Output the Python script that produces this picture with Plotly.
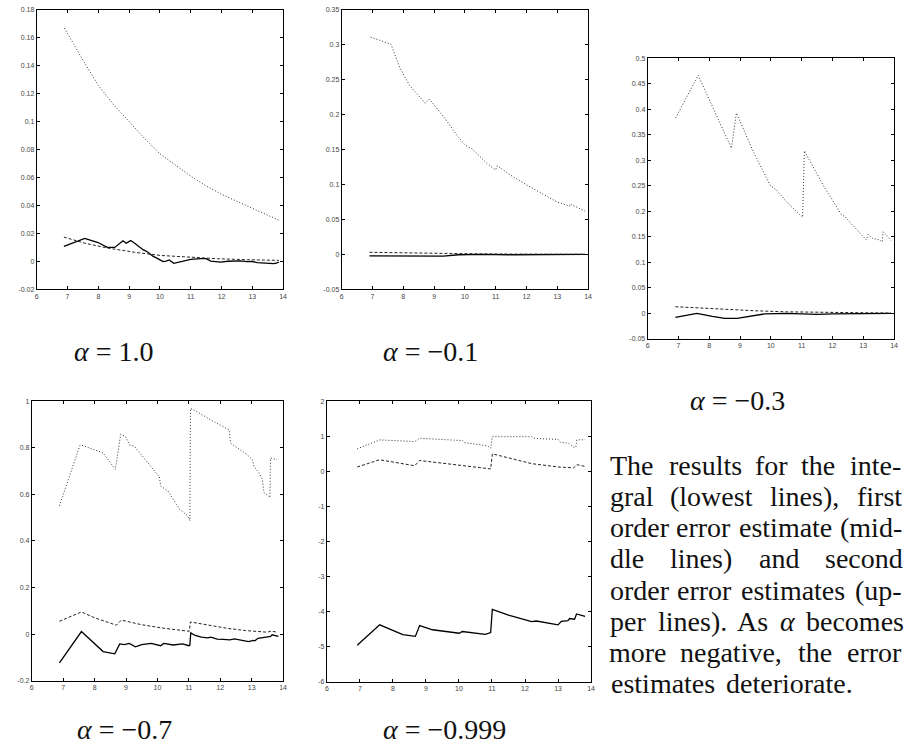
import plotly.graph_objects as go

W, H = 904, 750

# ---------------- data ----------------
# alpha = 1.0
a1_x_int = [6.88, 7.56, 7.99, 8.29, 8.53, 8.8, 8.9, 9.05, 9.18, 9.45, 9.6, 9.77, 9.93, 10.1, 10.2, 10.3,
            10.45, 10.68, 11.0, 11.33, 11.5, 11.65, 11.97, 12.2, 12.4, 12.6, 12.84, 13.0, 13.16, 13.3,
            13.48, 13.6, 13.7, 13.8, 13.86]
a1_int = [0.0107, 0.0165, 0.0135, 0.0100, 0.0100, 0.0147, 0.0130, 0.0149, 0.0130, 0.0084, 0.0067, 0.0037,
          0.0020, -0.0002, 0.0002, 0.0010, -0.0014, -0.0002, 0.0014, 0.0020, 0.0019, 0.0002, -0.0005,
          0.0001, 0.0002, 0.0004, -0.0002, -0.0001, -0.0009, -0.0011, -0.0016, -0.0013, -0.0016, -0.0010,
          -0.0005]
a1_x_e1 = [6.88, 7.56, 8.31, 9.18, 10.04, 10.9, 11.87, 12.84, 13.86]
a1_e1 = [0.0174, 0.0130, 0.0095, 0.0065, 0.0042, 0.0030, 0.0019, 0.0012, 0.0007]
a1_x_e2 = [6.9, 7.2, 7.5, 8.0, 8.5, 9.0, 9.5, 10.0, 10.5, 11.0, 11.5, 12.0, 12.5, 13.0, 13.5, 13.86]
a1_e2 = [0.167, 0.155, 0.144, 0.126, 0.112, 0.100, 0.088, 0.077, 0.069, 0.061, 0.054, 0.048, 0.043,
         0.038, 0.033, 0.0295]

# alpha = -0.1
a2_x_int = [6.9, 7.6, 8.0, 8.8, 9.3, 9.8, 10.5, 11.5, 12.5, 13.9]
a2_int = [-0.002, -0.002, -0.0022, -0.003, -0.0025, -0.0005, 0.0, -0.0005, -0.0005, 0.0]
a2_x_e1 = [6.9, 8.0, 9.0, 10.0, 11.0, 12.0, 13.9]
a2_e1 = [0.003, 0.002, 0.0015, 0.001, 0.0005, 0.0003, 0.0001]
a2_x_e2 = [6.94, 7.6, 7.88, 8.2, 8.71, 8.84, 9.0, 9.38, 9.75, 10.02, 10.24, 10.3, 10.72, 11.0, 11.05,
           11.5, 12.0, 12.5, 13.0, 13.4, 13.42, 13.9]
a2_e2 = [0.311, 0.301, 0.268, 0.242, 0.2165, 0.2225, 0.214, 0.193, 0.170, 0.156, 0.151, 0.148, 0.130,
         0.121, 0.127, 0.113, 0.0995, 0.087, 0.075, 0.069, 0.072, 0.062]

# alpha = -0.3
a3_x_int = [6.9, 7.6, 8.1, 8.5, 8.9, 9.3, 9.8, 10.5, 11.5, 12.0, 12.8, 13.9]
a3_int = [-0.008, 0.0, -0.006, -0.010, -0.010, -0.006, -0.001, 0.0, -0.002, -0.001, -0.001, 0.0]
a3_x_e1 = [6.9, 7.6, 8.5, 9.5, 10.5, 11.5, 12.5, 13.9]
a3_e1 = [0.013, 0.011, 0.007, 0.005, 0.003, 0.002, 0.001, 0.0005]
a3_x_e2 = [6.91, 7.64, 8.72, 8.88, 9.44, 9.98, 10.2, 10.52, 10.95, 11.03, 11.09, 11.7, 12.3, 12.4, 13.1,
           13.16, 13.3, 13.53, 13.62, 13.64, 13.75, 13.9]
a3_e2 = [0.3835, 0.467, 0.324, 0.393, 0.316, 0.251, 0.241, 0.218, 0.193, 0.188, 0.319, 0.251, 0.193,
         0.190, 0.144, 0.155, 0.147, 0.144, 0.140, 0.160, 0.154, 0.143]

# alpha = -0.7
a4_x_int = [6.88, 7.58, 8.27, 8.64, 8.8, 8.95, 9.1, 9.3, 9.5, 9.8, 10.1, 10.2, 10.5, 10.8, 11.0, 11.03,
            11.06, 11.2, 11.4, 11.6, 11.7, 11.9, 12.1, 12.3, 12.45, 12.6, 12.8, 12.9, 13.05, 13.1, 13.2,
            13.35, 13.5, 13.6, 13.65, 13.75, 13.85]
a4_int = [-0.124, 0.011, -0.075, -0.085, -0.042, -0.045, -0.040, -0.055, -0.045, -0.040, -0.050, -0.040,
          -0.047, -0.042, -0.050, -0.048, 0.005, -0.006, -0.013, -0.016, -0.013, -0.022, -0.023, -0.025,
          -0.021, -0.024, -0.030, -0.032, -0.027, -0.029, -0.018, -0.015, -0.012, -0.010, -0.003, -0.007,
          -0.010]
a4_x_e1 = [6.88, 7.58, 8.0, 8.69, 8.85, 9.5, 10.2, 11.01, 11.05, 11.6, 12.2, 12.8, 13.5, 13.62, 13.81]
a4_e1 = [0.055, 0.095, 0.070, 0.038, 0.060, 0.040, 0.025, 0.012, 0.052, 0.038, 0.025, 0.015, 0.008,
         0.013, 0.008]
a4_x_e2 = [6.88, 7.53, 7.58, 8.27, 8.66, 8.83, 8.98, 9.11, 9.27, 9.48, 10.0, 10.06, 10.1, 10.33, 10.54,
           10.7, 10.96, 11.03, 11.05, 11.17, 11.8, 12.12, 12.28, 12.33, 12.65, 12.86, 13.02, 13.07, 13.23,
           13.34, 13.39, 13.55, 13.58, 13.6, 13.81]
a4_e2 = [0.551, 0.81, 0.812, 0.778, 0.707, 0.858, 0.849, 0.813, 0.806, 0.77, 0.685, 0.678, 0.636, 0.615,
         0.572, 0.537, 0.508, 0.487, 0.969, 0.962, 0.912, 0.89, 0.877, 0.82, 0.79, 0.77, 0.749, 0.72,
         0.693, 0.664, 0.607, 0.593, 0.586, 0.756, 0.749]

# alpha = -0.999
a5_x_int = [6.92, 7.6, 8.3, 8.68, 8.81, 9.0, 9.2, 10.01, 10.1, 10.8, 10.96, 11.01, 11.5, 12.2, 12.35,
            13.0, 13.1, 13.3, 13.35, 13.5, 13.56, 13.82]
a5_int = [-4.965, -4.38, -4.66, -4.71, -4.40, -4.45, -4.52, -4.62, -4.57, -4.65, -4.60, -3.94, -4.10,
          -4.29, -4.27, -4.38, -4.28, -4.26, -4.20, -4.22, -4.07, -4.14]
a5_x_e1 = [6.92, 7.6, 8.66, 8.81, 10.96, 11.01, 12.2, 13.0, 13.47, 13.57, 13.82]
a5_e1 = [0.125, 0.33, 0.16, 0.31, 0.07, 0.50, 0.22, 0.125, 0.10, 0.19, 0.14]
a5_x_e2 = [6.92, 7.6, 8.66, 8.81, 10.11, 10.16, 10.86, 10.96, 11.01, 12.2, 12.3, 13.0, 13.07, 13.32,
           13.47, 13.54, 13.57, 13.82]
a5_e2 = [0.643, 0.897, 0.85, 0.944, 0.878, 0.82, 0.73, 0.66, 0.99, 0.99, 0.94, 0.91, 0.83, 0.80, 0.69,
         0.69, 0.90, 0.90]

x_ticks = [6, 7, 8, 9, 10, 11, 12, 13, 14]
panel_labels = ["<i>α</i> = 1.0", "<i>α</i> = −0.1", "<i>α</i> = −0.3", "<i>α</i> = −0.7", "<i>α</i> = −0.999"]

# caption, one list of words per line (all but the last line are justified)
caption_words = [
    ["The", "results", "for", "the", "inte-"],
    ["gral", "(lowest", "lines),", "first"],
    ["order", "error", "estimate", "(mid-"],
    ["dle", "lines)", "and", "second"],
    ["order", "error", "estimates", "(up-"],
    ["per", "lines).", "As", "α", "becomes"],
    ["more", "negative,", "the", "error"],
    ["estimates", "deteriorate."],
]

# ---------------- layout ----------------
# approximate advance widths (em) of a book serif, used to justify the caption lines
EM_W = {"a": .5, "b": .556, "c": .444, "d": .556, "e": .444, "f": .306, "g": .5, "h": .556, "i": .278,
        "l": .278, "m": .833, "n": .556, "o": .5, "p": .556, "r": .392, "s": .394, "t": .389, "u": .556,
        "v": .528, "w": .722, "T": .722, "A": .75, "(": .389, ")": .389, ",": .278, ".": .278, "-": .333,
        "α": .64}
EM_PX = 26.2
CAP_L, CAP_R = 612, 906
caption_top, caption_step = 466, 31.4


def word_px(w):
    return sum(EM_W.get(c, .5) for c in w) * EM_PX


# panel boxes in pixels: left, right, top, bottom ; y range ; y tick step
panels = [
    dict(box=(35, 283, 6, 288), yr=(-0.02, 0.18), dt=0.02,
         data=[(a1_x_int, a1_int), (a1_x_e1, a1_e1), (a1_x_e2, a1_e2)]),
    dict(box=(342, 590, 6, 288), yr=(-0.05, 0.35), dt=0.05,
         data=[(a2_x_int, a2_int), (a2_x_e1, a2_e1), (a2_x_e2, a2_e2)]),
    dict(box=(650, 898, 55, 338), yr=(-0.05, 0.5), dt=0.05,
         data=[(a3_x_int, a3_int), (a3_x_e1, a3_e1), (a3_x_e2, a3_e2)]),
    dict(box=(30, 283, 401, 683), yr=(-0.2, 1.0), dt=0.2,
         data=[(a4_x_int, a4_int), (a4_x_e1, a4_e1), (a4_x_e2, a4_e2)]),
    dict(box=(327, 593, 401, 684), yr=(-6, 2), dt=1,
         data=[(a5_x_int, a5_int), (a5_x_e1, a5_e1), (a5_x_e2, a5_e2)]),
]
label_pos = [(113, 351), (431, 351), (740, 400), (123, 732), (445, 732)]

styles = [dict(color="black", width=1.3, dash="solid"),
          dict(color="#222", width=1.0, dash="3px,2px"),
          dict(color="#333", width=1.0, dash="1px,2px")]

TEXT_FONT = dict(family="Liberation Serif", size=28, color="#111")

fig = go.Figure()
layout = dict(width=W, height=H, margin=dict(l=0, r=0, t=0, b=0),
              paper_bgcolor="white", plot_bgcolor="white", showlegend=False)


def fmt(v):
    s = f"{v:.2f}".rstrip("0").rstrip(".")
    return "0" if s in ("-0", "0") else s


annotations = []
for i, p in enumerate(panels):
    n = "" if i == 0 else str(i + 1)
    l, r, t, b = p["box"]
    y0, y1 = p["yr"]
    nt = int(round((y1 - y0) / p["dt"]))
    yt = [round(y0 + k * p["dt"], 6) for k in range(nt + 1)]
    axis_common = dict(showline=True, linecolor="black", linewidth=1, mirror="ticks",
                       ticks="inside", ticklen=3, tickcolor="black", showgrid=False,
                       zeroline=False, tickfont=dict(family="Liberation Sans", size=7, color="#444"))
    layout["xaxis" + n] = dict(domain=[l / W, r / W], range=[6, 14], tickvals=x_ticks,
                               ticktext=[str(v) for v in x_ticks], anchor="y" + n, **axis_common)
    layout["yaxis" + n] = dict(domain=[1 - b / H, 1 - t / H], range=[y0, y1], tickvals=yt,
                               ticktext=[fmt(v) for v in yt], anchor="x" + n, **axis_common)
    for (xs, ys), st in zip(p["data"], styles):
        fig.add_trace(go.Scatter(x=xs, y=ys, mode="lines", line=st, xaxis="x" + n, yaxis="y" + n,
                                 hoverinfo="skip"))
    cx, cy = label_pos[i]
    annotations.append(dict(text=panel_labels[i], x=cx / W, y=1 - cy / H, xref="paper", yref="paper",
                            showarrow=False, xanchor="center", yanchor="middle", font=TEXT_FONT))

# justified caption: each word is centred where the justified line puts it
for k, words in enumerate(caption_words):
    ypx = caption_top + k * caption_step
    widths = [word_px(w) for w in words]
    last = k == len(caption_words) - 1
    gap = .333 * EM_PX if last else (CAP_R - CAP_L - sum(widths)) / (len(words) - 1)
    xpos = CAP_L
    for w, wd in zip(words, widths):
        txt = "<i>α</i>" if w == "α" else w
        annotations.append(dict(text=txt, x=(xpos + wd / 2) / W, y=1 - ypx / H, xref="paper",
                                yref="paper", showarrow=False, xanchor="center", yanchor="middle",
                                font=TEXT_FONT, borderpad=0))
        xpos += wd + gap

layout["annotations"] = annotations
fig.update_layout(**layout)
fig.write_html("out.html")
